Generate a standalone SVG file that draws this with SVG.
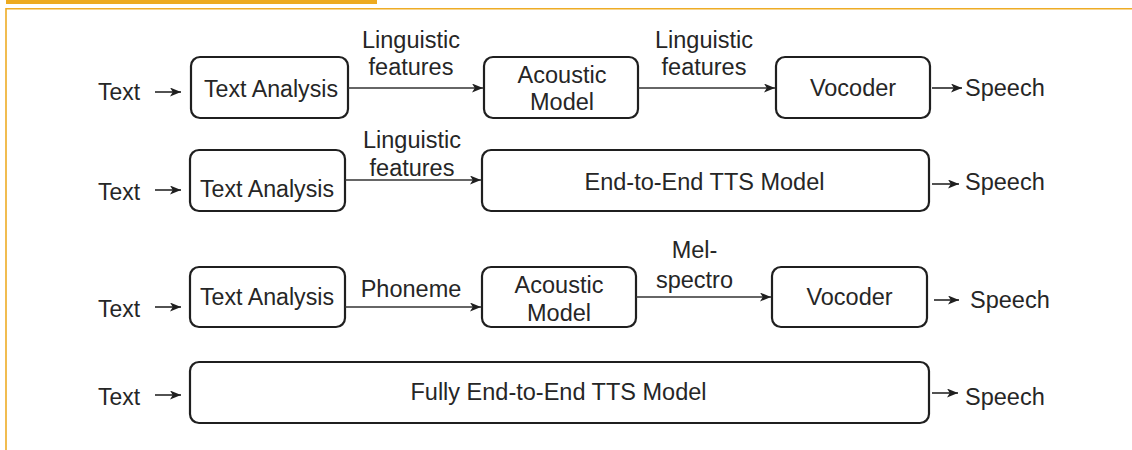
<svg xmlns="http://www.w3.org/2000/svg" width="1132" height="450" viewBox="0 0 1132 450">
  <style>
    .box { fill: #ffffff; stroke: #1f1f1f; stroke-width: 2.2; }
    .lbl { font-family: "Liberation Sans", Arial, sans-serif; font-size: 23.5px; fill: #262626; }
    .mid { text-anchor: middle; }
    .edge { stroke: #333333; stroke-width: 1.7; fill: none; marker-end: url(#head); }
    .frame { stroke: #eeac25; fill: none; }
  </style>
  <defs>
    <marker id="head" markerUnits="userSpaceOnUse" markerWidth="12" markerHeight="10" refX="11" refY="4.5" orient="auto">
      <path d="M0,0 L11,4.5 L0,9 L2.8,4.5 z" fill="#1f1f1f"/>
    </marker>
  </defs>

  <rect width="1132" height="450" fill="#ffffff"/>

  <!-- page frame -->
  <g id="frame">
    <rect x="6" y="0" width="371" height="4" fill="#edaa1f"/>
    <line class="frame" x1="6" y1="8.8" x2="1132" y2="8.8" stroke-width="1.6"/>
    <line class="frame" x1="6" y1="8" x2="6" y2="450" stroke-width="1.6"/>
  </g>

  <!-- row 1: text analysis, acoustic model, vocoder -->
  <g id="r1-text"><text class="lbl" x="98" y="100" textLength="42" lengthAdjust="spacingAndGlyphs">Text</text></g>
  <g id="r1-analysis">
    <rect class="box" x="191" y="57" width="157" height="61" rx="9"/>
    <text class="lbl" x="204" y="97" textLength="134" lengthAdjust="spacingAndGlyphs">Text Analysis</text>
  </g>
  <g id="r1-acoustic">
    <rect class="box" x="484" y="57" width="154" height="61" rx="9"/>
    <text class="lbl mid" x="562" y="83">Acoustic</text>
    <text class="lbl mid" x="562" y="110">Model</text>
  </g>
  <g id="r1-vocoder">
    <rect class="box" x="776" y="57" width="154" height="61" rx="9"/>
    <text class="lbl mid" x="853" y="96">Vocoder</text>
  </g>
  <g id="r1-speech"><text class="lbl" x="965" y="96">Speech</text></g>

  <!-- row 2: text analysis, end-to-end model -->
  <g id="r2-text"><text class="lbl" x="98" y="200" textLength="42" lengthAdjust="spacingAndGlyphs">Text</text></g>
  <g id="r2-analysis">
    <rect class="box" x="190" y="150" width="155" height="61" rx="9"/>
    <text class="lbl" x="200" y="197" textLength="134" lengthAdjust="spacingAndGlyphs">Text Analysis</text>
  </g>
  <g id="r2-e2e">
    <rect class="box" x="482" y="150" width="447" height="61" rx="9"/>
    <text class="lbl mid" x="704.5" y="190">End-to-End TTS Model</text>
  </g>
  <g id="r2-speech"><text class="lbl" x="965" y="190">Speech</text></g>

  <!-- row 3: text analysis, acoustic model, vocoder -->
  <g id="r3-text"><text class="lbl" x="98" y="317" textLength="42" lengthAdjust="spacingAndGlyphs">Text</text></g>
  <g id="r3-analysis">
    <rect class="box" x="190" y="267" width="155" height="60" rx="9"/>
    <text class="lbl" x="200" y="305" textLength="134" lengthAdjust="spacingAndGlyphs">Text Analysis</text>
  </g>
  <g id="r3-acoustic">
    <rect class="box" x="482" y="267" width="154" height="60" rx="9"/>
    <text class="lbl mid" x="559" y="293">Acoustic</text>
    <text class="lbl mid" x="559" y="321">Model</text>
  </g>
  <g id="r3-vocoder">
    <rect class="box" x="772" y="267" width="155" height="60" rx="9"/>
    <text class="lbl mid" x="849.5" y="305">Vocoder</text>
  </g>
  <g id="r3-speech"><text class="lbl" x="970" y="308">Speech</text></g>

  <!-- row 4: fully end-to-end model -->
  <g id="r4-text"><text class="lbl" x="98" y="405" textLength="42" lengthAdjust="spacingAndGlyphs">Text</text></g>
  <g id="r4-full">
    <rect class="box" x="190" y="362" width="739" height="61" rx="9"/>
    <text class="lbl mid" x="558.5" y="400">Fully End-to-End TTS Model</text>
  </g>
  <g id="r4-speech"><text class="lbl" x="965" y="405">Speech</text></g>

  <!-- connectors and their labels -->
  <g id="connectors">
    <line class="edge" x1="155" y1="92" x2="181" y2="92"/>
    <line class="edge" x1="348" y1="88" x2="483" y2="88"/>
    <line class="edge" x1="638" y1="88" x2="775" y2="88"/>
    <line class="edge" x1="932" y1="88" x2="962" y2="88"/>

    <line class="edge" x1="155" y1="190" x2="181" y2="190"/>
    <line class="edge" x1="345" y1="180" x2="481" y2="180"/>
    <line class="edge" x1="932" y1="184" x2="959" y2="184"/>

    <line class="edge" x1="155" y1="307" x2="181" y2="307"/>
    <line class="edge" x1="345" y1="307" x2="481" y2="307"/>
    <line class="edge" x1="636" y1="297" x2="771" y2="297"/>
    <line class="edge" x1="934" y1="300" x2="959" y2="300"/>

    <line class="edge" x1="155" y1="395" x2="181" y2="395"/>
    <line class="edge" x1="932" y1="393" x2="958" y2="393"/>

    <text class="lbl mid" x="411" y="48">Linguistic</text>
    <text class="lbl mid" x="411" y="75">features</text>
    <text class="lbl mid" x="704" y="48">Linguistic</text>
    <text class="lbl mid" x="704" y="75">features</text>
    <text class="lbl mid" x="412" y="148">Linguistic</text>
    <text class="lbl mid" x="412" y="176">features</text>
    <text class="lbl mid" x="411" y="297">Phoneme</text>
    <text class="lbl mid" x="694.5" y="258">Mel-</text>
    <text class="lbl mid" x="694.5" y="288">spectro</text>
  </g>
</svg>
